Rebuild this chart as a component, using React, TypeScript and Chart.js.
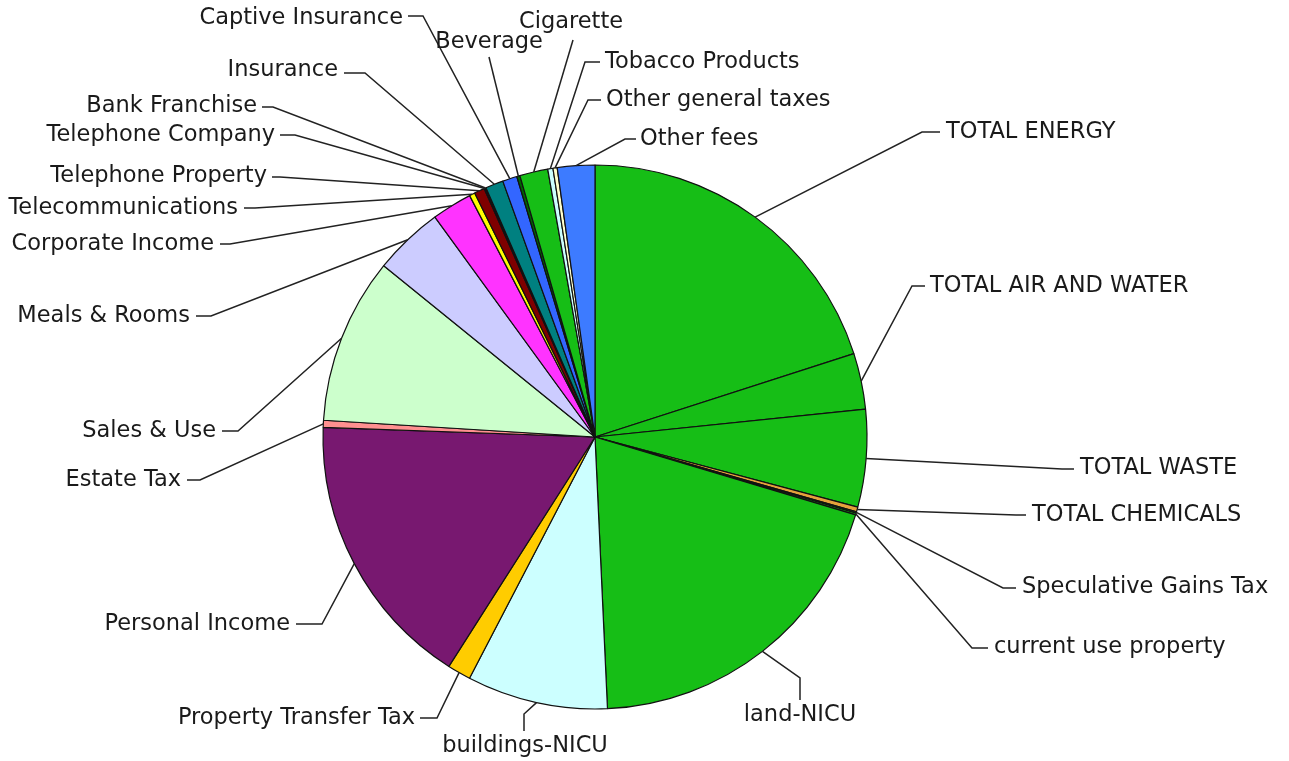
import React, { useEffect, useRef } from "react";
import { Chart, registerables } from "chart.js";

Chart.register(...registerables);

// ---- data ----
const categories = [
  "TOTAL ENERGY",
  "TOTAL AIR AND WATER",
  "TOTAL WASTE",
  "TOTAL CHEMICALS",
  "Speculative Gains Tax",
  "current use property",
  "land-NICU",
  "buildings-NICU",
  "Property Transfer Tax",
  "Personal Income",
  "Estate Tax",
  "Sales & Use",
  "Meals & Rooms",
  "Corporate Income",
  "Telecommunications",
  "Telephone Property",
  "Telephone Company",
  "Bank Franchise",
  "Insurance",
  "Captive Insurance",
  "Beverage",
  "Cigarette",
  "Tobacco Products",
  "Other general taxes",
  "Other fees",
];

// share of total (percent)
const shares = [
  20.03, 3.33, 5.78, 0.28, 0.08, 0.11, 19.64, 8.36, 1.39, 16.53, 0.42, 9.86,
  4.14, 2.39, 0.33, 0.61, 0.06, 0.06, 1.06, 0.86, 0.19, 1.67, 0.31, 0.25, 2.22,
];

const sliceColors = [
  "#16BE16", "#16BE16", "#16BE16", "#E6A23C", "#0B7A0B", "#16BE16", "#16BE16",
  "#CCFFFF", "#FFCC00", "#781870", "#FF9090", "#CCFFCC", "#CCCCFF", "#FF33FF",
  "#FFFF00", "#7F0000", "#000080", "#800080", "#008080", "#3366FF", "#006600",
  "#16BE16", "#CCFFFF", "#FFFFCC", "#3D7BFF",
];

// ---- label layout (elbow point, end of leader, text anchor, alignment) ----
type Lay = { ex: number; ey: number; dx: number; dy: number; tx: number; ty: number; al: CanvasTextAlign };
const labelLayout: Lay[] = [
  { ex: 922, ey: 132, dx: 940, dy: 132, tx: 946, ty: 132, al: "left" },
  { ex: 912, ey: 286, dx: 925, dy: 286, tx: 930, ty: 286, al: "left" },
  { ex: 1062, ey: 469, dx: 1074, dy: 469, tx: 1080, ty: 468, al: "left" },
  { ex: 1016, ey: 515, dx: 1026, dy: 515, tx: 1032, ty: 515, al: "left" },
  { ex: 1003, ey: 588, dx: 1016, dy: 588, tx: 1022, ty: 587, al: "left" },
  { ex: 972, ey: 648, dx: 988, dy: 648, tx: 994, ty: 647, al: "left" },
  { ex: 800, ey: 678, dx: 800, dy: 700, tx: 800, ty: 715, al: "center" },
  { ex: 524, ey: 714, dx: 524, dy: 731, tx: 525, ty: 746, al: "center" },
  { ex: 437, ey: 718, dx: 420, dy: 718, tx: 415, ty: 718, al: "right" },
  { ex: 322, ey: 624, dx: 296, dy: 624, tx: 290, ty: 624, al: "right" },
  { ex: 200, ey: 480, dx: 187, dy: 480, tx: 181, ty: 480, al: "right" },
  { ex: 238, ey: 431, dx: 222, dy: 431, tx: 216, ty: 431, al: "right" },
  { ex: 211, ey: 316, dx: 196, dy: 316, tx: 190, ty: 316, al: "right" },
  { ex: 230, ey: 244, dx: 220, dy: 244, tx: 214, ty: 244, al: "right" },
  { ex: 255, ey: 208, dx: 244, dy: 208, tx: 238, ty: 208, al: "right" },
  { ex: 280, ey: 177, dx: 272, dy: 177, tx: 267, ty: 176, al: "right" },
  { ex: 295, ey: 135, dx: 280, dy: 135, tx: 275, ty: 135, al: "right" },
  { ex: 273, ey: 107, dx: 262, dy: 107, tx: 257, ty: 106, al: "right" },
  { ex: 365, ey: 73, dx: 344, dy: 73, tx: 338, ty: 70, al: "right" },
  { ex: 423, ey: 16, dx: 408, dy: 16, tx: 403, ty: 18, al: "right" },
  { ex: 489, ey: 57, dx: 489, dy: 57, tx: 489, ty: 42, al: "center" },
  { ex: 573, ey: 40, dx: 573, dy: 40, tx: 571, ty: 22, al: "center" },
  { ex: 585, ey: 62, dx: 600, dy: 62, tx: 605, ty: 62, al: "left" },
  { ex: 588, ey: 100, dx: 601, dy: 100, tx: 606, ty: 100, al: "left" },
  { ex: 625, ey: 139, dx: 636, dy: 139, tx: 640, ty: 139, al: "left" },
];

const leaderPlugin = {
  id: "leaders",
  afterDatasetsDraw(chart: any) {
    const ctx = chart.ctx as CanvasRenderingContext2D;
    const meta = chart.getDatasetMeta(0);
    ctx.save();
    ctx.font = '22.5px "DejaVu Sans", Verdana, sans-serif';
    ctx.strokeStyle = "#222222";
    ctx.lineWidth = 1.5;
    ctx.fillStyle = "#1a1a1a";
    ctx.textBaseline = "middle";
    meta.data.forEach((arc: any, i: number) => {
      const L = labelLayout[i];
      if (!L) return;
      const p = arc.getProps(["x", "y", "startAngle", "endAngle", "outerRadius"], true);
      const mid = (p.startAngle + p.endAngle) / 2;
      const sx = p.x + Math.cos(mid) * p.outerRadius;
      const sy = p.y + Math.sin(mid) * p.outerRadius;
      ctx.beginPath();
      ctx.moveTo(sx, sy);
      ctx.lineTo(L.ex, L.ey);
      ctx.lineTo(L.dx, L.dy);
      ctx.stroke();
      ctx.textAlign = L.al;
      ctx.fillText(categories[i], L.tx, L.ty);
    });
    ctx.restore();
  },
};

export default function App() {
  const ref = useRef<HTMLCanvasElement | null>(null);
  useEffect(() => {
    if (!ref.current) return;
    const chart = new Chart(ref.current, {
      type: "pie",
      data: {
        labels: categories,
        datasets: [
          {
            data: shares,
            backgroundColor: sliceColors,
            borderColor: "#111111",
            borderWidth: 1.2,
          },
        ],
      },
      options: {
        responsive: false,
        animation: false,
        events: [],
        radius: 272,
        layout: { padding: { left: 323, right: 422, top: 165, bottom: 52 } },
        plugins: {
          legend: { display: false },
          tooltip: { enabled: false },
          title: { display: false },
        },
      } as any,
      plugins: [leaderPlugin],
    });
    return () => chart.destroy();
  }, []);
  return (
    <div style={{ position: "absolute", left: 0, top: 0, width: 1289, height: 761, background: "#fff" }}>
      <canvas ref={ref} width={1289} height={761} style={{ display: "block" }} />
    </div>
  );
}
